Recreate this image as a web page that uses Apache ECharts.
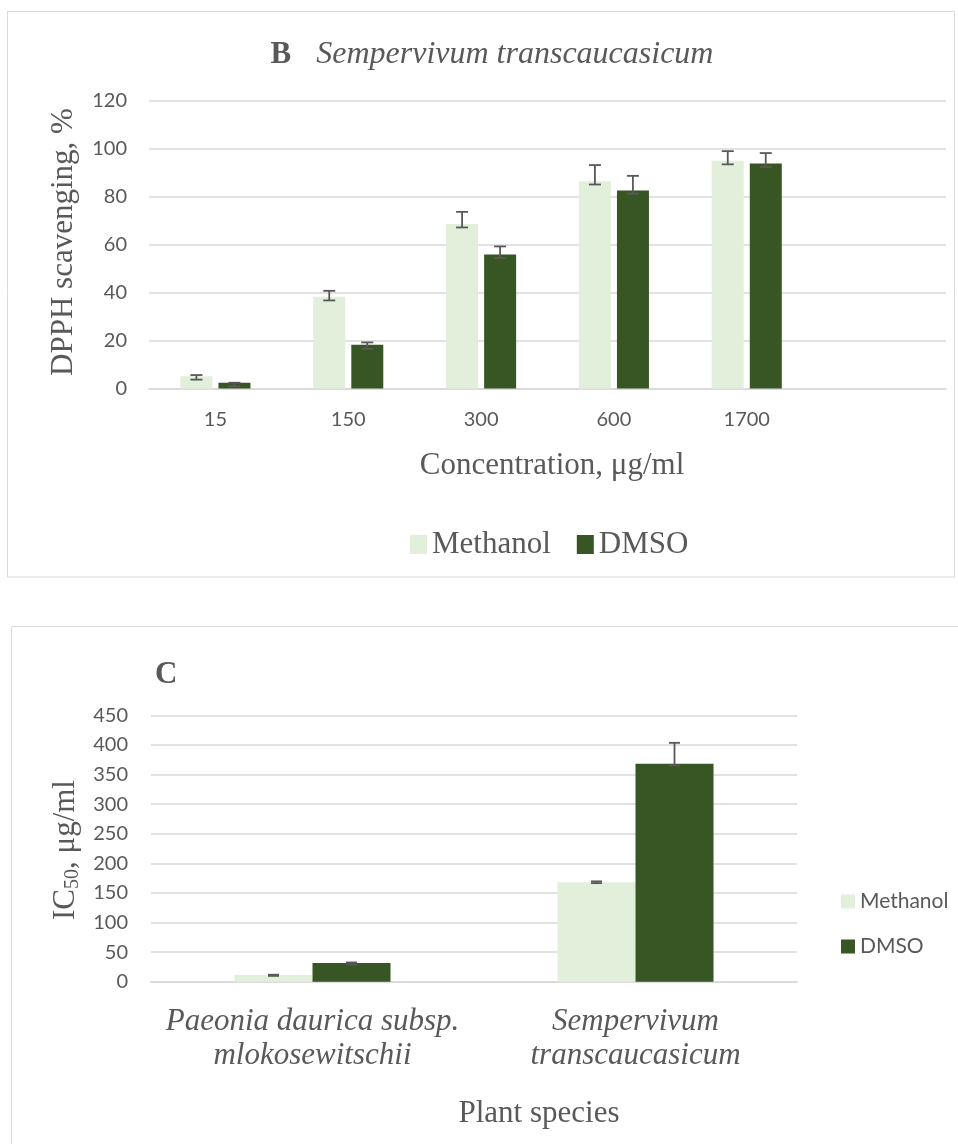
<!DOCTYPE html>
<html>
<head>
<meta charset="utf-8">
<script src="https://cdn.jsdelivr.net/npm/echarts@6/dist/echarts.min.js"></script>
<style>
  html, body { margin: 0; padding: 0; background: #fff; }
  #chart { width: 958px; height: 1144px; }
</style>
</head>
<body>
<div id="chart"></div>
<script>
// panel B - DPPH scavenging
const concentrations = ['15', '150', '300', '600', '1700', ''];
const methanolB = [5.1, 38.2, 68.5, 86.4, 94.9];
const dmsoB = [2.4, 18.2, 55.8, 82.5, 93.8];
const methanolBUp = [0.5, 2.5, 5.1, 6.7, 4.0];
const methanolBLow = [1.4, 1.5, 1.4, 1.4, 1.5];
const dmsoBUp = [0, 1.0, 3.4, 6.1, 4.3];
const dmsoBLow = [1.5, 1.7, 1.4, 1.3, 1.5];

// panel C - IC50
const plants = ['Paeonia daurica subsp.\nmlokosewitschii', 'Sempervivum\ntranscaucasicum'];
const methanolC = [11.3, 168];
const dmsoC = [31.5, 368];
const methanolCUp = [0.5, 1.5];
const methanolCLow = [1.5, 1.5];
const dmsoCUp = [1, 35.5];
const dmsoCLow = [2.5, 2.7];

const textColor = '#595959';
const gridColor = '#D9D9D9';
const lightGreen = '#E2EFDA';
const darkGreen = '#375623';
const serif = 'Liberation Serif';
const sans = 'Lato';

function errData(vals, up, low) {
  return vals.map((v, i) => [i, v, up[i], low[i]]);
}

function errorBars(offset, cap) {
  return function (params, api) {
    const x = api.value(0), v = api.value(1);
    const hi = api.coord([x, v + api.value(2)]);
    const lo = api.coord([x, v - api.value(3)]);
    const cx = hi[0] + offset;
    const st = { stroke: textColor, lineWidth: 1.8 };
    return {
      type: 'group',
      children: [
        { type: 'line', shape: { x1: cx, y1: hi[1], x2: cx, y2: lo[1] }, style: st },
        { type: 'line', shape: { x1: cx - cap, y1: hi[1], x2: cx + cap, y2: hi[1] }, style: st },
        { type: 'line', shape: { x1: cx - cap, y1: lo[1], x2: cx + cap, y2: lo[1] }, style: st }
      ]
    };
  };
}

const chart = echarts.init(document.getElementById('chart'));
chart.setOption({
  animation: false,
  backgroundColor: '#fff',
  title: [
    {
      text: '{b|B}{i|Sempervivum transcaucasicum}',
      left: 487, top: 34, textAlign: 'center',
      textStyle: {
        fontWeight: 'normal',
        rich: {
          b: { fontFamily: serif, fontWeight: 'bold', fontSize: 31, color: textColor, padding: [0, 25, 0, 0] },
          i: { fontFamily: serif, fontStyle: 'italic', fontWeight: 'normal', fontSize: 32, color: textColor }
        }
      }
    },
    {
      text: 'Concentration, μg/ml',
      left: 547, top: 445, textAlign: 'center',
      textStyle: { fontFamily: serif, fontWeight: 'normal', fontSize: 31, color: textColor }
    },
    {
      text: 'C',
      left: 150, top: 654,
      textStyle: { fontFamily: serif, fontWeight: 'bold', fontSize: 31, color: textColor }
    },
    {
      text: 'Plant species',
      left: 534, top: 1093, textAlign: 'center',
      textStyle: { fontFamily: serif, fontWeight: 'normal', fontSize: 31, color: textColor }
    }
  ],
  graphic: [
    { type: 'rect', shape: { x: 7.5, y: 11.5, width: 947, height: 565.5 },
      style: { fill: 'none', stroke: gridColor, lineWidth: 1 }, silent: true },
    { type: 'rect', shape: { x: 11.5, y: 626.5, width: 960, height: 560 },
      style: { fill: 'none', stroke: gridColor, lineWidth: 1 }, silent: true },
    { type: 'text', x: 64, y: 242, rotation: Math.PI / 2,
      style: { text: 'DPPH scavenging, %', fontFamily: serif, fontSize: 31, fill: textColor,
        textAlign: 'center', textVerticalAlign: 'middle' } },
    { type: 'text', x: 66, y: 850, rotation: Math.PI / 2,
      style: {
        text: '{n|IC}{s|50}{n|, μg/ml}',
        textAlign: 'center', textVerticalAlign: 'middle',
        rich: {
          n: { fontFamily: serif, fontSize: 31, fill: textColor, color: textColor },
          s: { fontFamily: serif, fontSize: 20, fill: textColor, color: textColor, padding: [14, 0, 0, 0] }
        }
      } }
  ],
  legend: [
    {
      data: ['Methanol', 'DMSO'],
      left: 405, top: 524,
      itemWidth: 17, itemHeight: 19, itemGap: 26,
      icon: 'rect',
      textStyle: { fontFamily: serif, fontSize: 31, color: textColor }
    },
    {
      data: [{ name: 'Methanol ' }, { name: 'DMSO ' }],
      orient: 'vertical',
      left: 836, top: 886,
      itemWidth: 14, itemHeight: 14, itemGap: 24,
      icon: 'rect',
      textStyle: { fontFamily: sans, fontSize: 21, color: textColor }
    }
  ],
  grid: [
    { left: 149, top: 100.5, width: 797, height: 288 },
    { left: 151, top: 715.3, width: 646, height: 266.4 }
  ],
  xAxis: [
    {
      type: 'category', gridIndex: 0, data: concentrations,
      axisLine: { lineStyle: { color: gridColor, width: 1.5 } },
      axisTick: { show: false },
      axisLabel: { color: textColor, fontFamily: sans, fontSize: 20, margin: 21 }
    },
    {
      type: 'category', gridIndex: 1, data: plants,
      axisLine: { lineStyle: { color: gridColor, width: 1.5 } },
      axisTick: { show: false },
      axisLabel: { color: textColor, fontFamily: serif, fontStyle: 'italic', fontSize: 31,
        lineHeight: 34, margin: 23, interval: 0 }
    }
  ],
  yAxis: [
    {
      type: 'value', gridIndex: 0, min: 0, max: 120, interval: 20,
      axisLine: { show: false }, axisTick: { show: false },
      splitLine: { lineStyle: { color: gridColor, width: 1.5 } },
      axisLabel: { color: textColor, fontFamily: sans, fontSize: 20, margin: 22 }
    },
    {
      type: 'value', gridIndex: 1, min: 0, max: 450, interval: 50,
      axisLine: { show: false }, axisTick: { show: false },
      splitLine: { lineStyle: { color: gridColor, width: 1.5 } },
      axisLabel: { color: textColor, fontFamily: sans, fontSize: 20, margin: 23 }
    }
  ],
  series: [
    { name: 'Methanol', type: 'bar', xAxisIndex: 0, yAxisIndex: 0, data: methanolB,
      barWidth: 32, barGap: '19%', itemStyle: { color: lightGreen } },
    { name: 'DMSO', type: 'bar', xAxisIndex: 0, yAxisIndex: 0, data: dmsoB,
      barWidth: 32, barGap: '19%', itemStyle: { color: darkGreen } },
    { type: 'custom', xAxisIndex: 0, yAxisIndex: 0, z: 5,
      renderItem: errorBars(-19, 6), encode: { x: 0, y: 1 },
      data: errData(methanolB, methanolBUp, methanolBLow) },
    { type: 'custom', xAxisIndex: 0, yAxisIndex: 0, z: 5,
      renderItem: errorBars(19, 6), encode: { x: 0, y: 1 },
      data: errData(dmsoB, dmsoBUp, dmsoBLow) },

    { name: 'Methanol ', type: 'bar', xAxisIndex: 1, yAxisIndex: 1, data: methanolC,
      barWidth: 78, barGap: '0%', itemStyle: { color: lightGreen } },
    { name: 'DMSO ', type: 'bar', xAxisIndex: 1, yAxisIndex: 1, data: dmsoC,
      barWidth: 78, barGap: '0%', itemStyle: { color: darkGreen } },
    { type: 'custom', xAxisIndex: 1, yAxisIndex: 1, z: 5,
      renderItem: errorBars(-39, 5.5), encode: { x: 0, y: 1 },
      data: errData(methanolC, methanolCUp, methanolCLow) },
    { type: 'custom', xAxisIndex: 1, yAxisIndex: 1, z: 5,
      renderItem: errorBars(39, 5.5), encode: { x: 0, y: 1 },
      data: errData(dmsoC, dmsoCUp, dmsoCLow) }
  ]
});
</script>
</body>
</html>
